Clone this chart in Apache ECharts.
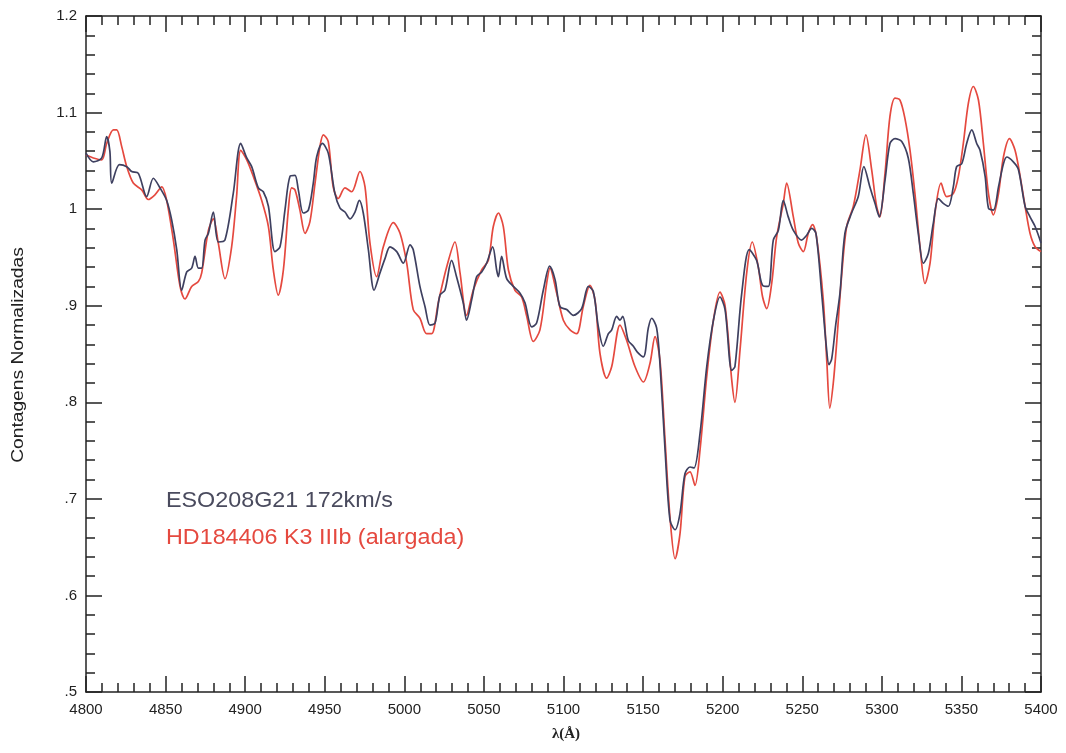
<!DOCTYPE html>
<html>
<head>
<meta charset="utf-8">
<style>
  html, body { margin: 0; padding: 0; background: #ffffff; }
  #chart { width: 1066px; height: 753px; }
</style>
<script src="https://cdn.jsdelivr.net/npm/echarts@6/dist/echarts.min.js"></script>
</head>
<body>
<div id="chart"></div>
<script>
// ESO208G21, broadened to 172 km/s
const esoWavelength = [
  4800, 4804.6, 4809.9, 4813, 4815, 4816.2, 4821, 4825.6, 4828.7, 4832.9,
  4838.1, 4842.3, 4846.5, 4850.7, 4853.8, 4857, 4860.1, 4863.3, 4866.4, 4868.5,
  4870.6, 4872.7, 4874.8, 4876.9, 4880, 4883.1, 4887.3, 4892.5, 4897.2, 4901,
  4904.1, 4908.3, 4911.4, 4914.6, 4918.7, 4921.9, 4925, 4928.2, 4931.3, 4933.4,
  4936.5, 4939.7, 4942.8, 4944.9, 4948.5, 4952.2, 4956.4, 4959.6, 4962.7, 4965.9,
  4969, 4971.7, 4974.2, 4977.4, 4981, 4984.7, 4987.9, 4991, 4995.2, 4999.4,
  5003.6, 5005.6, 5009.8, 5013, 5016.1, 5019.3, 5022.4, 5025.5, 5029.7, 5032.8,
  5037, 5039.1, 5042.3, 5045.4, 5048.6, 5051.7, 5055.5, 5058, 5059.1, 5061.1,
  5064.3, 5068.5, 5072.7, 5075.8, 5080, 5083.1, 5087.3, 5091.3, 5094.7, 5097.8,
  5102, 5106.2, 5111.4, 5115.6, 5118.7, 5121.9, 5125, 5128.2, 5130.3, 5133.4,
  5135.5, 5137.2, 5140.7, 5143.9, 5146.4, 5150.2, 5153.3, 5155.4, 5158.5, 5160.6,
  5163.8, 5166.9, 5170.1, 5173.2, 5176.3, 5179.5, 5182, 5185.8, 5190, 5194.2,
  5198.3, 5201.5, 5205.7, 5207.7, 5212, 5216.7, 5221.3, 5225.1, 5228.7, 5231.8,
  5235, 5238.1, 5241.2, 5244.4, 5249.6, 5252.8, 5255.9, 5258.6, 5262.2, 5265,
  5266.8, 5268.5, 5271, 5273.7, 5276.8, 5281, 5285.2, 5288.7, 5292.5, 5295.7,
  5298.4, 5302, 5305.1, 5308.3, 5312.5, 5316.6, 5319.8, 5322.9, 5326.1, 5329.2,
  5332.3, 5335.5, 5338.6, 5341.8, 5344.9, 5347, 5350.2, 5353.3, 5356.5, 5359.6,
  5361.7, 5364.9, 5367, 5370.1, 5373.3, 5376.4, 5378.5, 5382.6, 5385.8, 5390,
  5393.1, 5396.3, 5400
];
const esoCounts = [
  1.058, 1.049, 1.053, 1.075, 1.060, 1.027, 1.046, 1.044, 1.039, 1.037,
  1.013, 1.032, 1.022, 1.009, 0.989, 0.958, 0.916, 0.935, 0.939, 0.951,
  0.939, 0.939, 0.968, 0.975, 0.997, 0.966, 0.968, 1.016, 1.068, 1.053,
  1.044, 1.022, 1.018, 1.003, 0.956, 0.961, 0.999, 1.034, 1.035, 1.020,
  0.996, 0.999, 1.027, 1.054, 1.068, 1.058, 1.016, 1.001, 0.997, 0.990,
  0.997, 1.009, 0.996, 0.958, 0.916, 0.934, 0.949, 0.961, 0.956, 0.944,
  0.963, 0.958, 0.920, 0.899, 0.880, 0.882, 0.911, 0.916, 0.947, 0.930,
  0.903, 0.885, 0.906, 0.930, 0.935, 0.944, 0.961, 0.937, 0.930, 0.951,
  0.928, 0.920, 0.913, 0.903, 0.878, 0.882, 0.916, 0.941, 0.927, 0.899,
  0.896, 0.890, 0.897, 0.920, 0.915, 0.878, 0.858, 0.871, 0.875, 0.889,
  0.885, 0.889, 0.864, 0.858, 0.852, 0.847, 0.877, 0.887, 0.877, 0.840,
  0.751, 0.678, 0.668, 0.685, 0.726, 0.733, 0.732, 0.768, 0.837, 0.885,
  0.909, 0.896, 0.833, 0.837, 0.913, 0.958, 0.947, 0.921, 0.920, 0.968,
  0.978, 1.009, 0.992, 0.978, 0.968, 0.973, 0.980, 0.975, 0.913, 0.860,
  0.839, 0.845, 0.880, 0.913, 0.975, 0.996, 1.013, 1.044, 1.023, 1.006,
  0.992, 1.030, 1.068, 1.073, 1.070, 1.053, 1.016, 0.975, 0.944, 0.954,
  0.985, 1.011, 1.006, 1.003, 1.023, 1.044, 1.047, 1.068, 1.082, 1.068,
  1.061, 1.034, 1.001, 0.999, 1.023, 1.047, 1.054, 1.049, 1.041, 1.003,
  0.992, 0.982, 0.965
];

// HD184406, K3 IIIb, broadened template
const hdWavelength = [
  4800, 4804.6, 4809.9, 4813, 4817.2, 4819.3, 4822.4, 4825.6, 4829.7, 4835,
  4839.1, 4843.4, 4847.6, 4850.7, 4854.9, 4859.1, 4862.2, 4866.4, 4870.6, 4872.7,
  4876.9, 4880, 4883.1, 4887.3, 4891.5, 4894.6, 4897.2, 4901, 4905.1, 4910.4,
  4914.6, 4917.7, 4920.8, 4924, 4927.1, 4929.2, 4931.3, 4934.4, 4937.6, 4940.7,
  4943.9, 4947, 4949.1, 4952.2, 4955.3, 4958.5, 4962.7, 4966.9, 4972.1, 4975.3,
  4978.4, 4982.6, 4986.8, 4993.1, 4997.3, 5001.5, 5005.6, 5009.8, 5014, 5017.2,
  5021.3, 5026.6, 5031.8, 5035, 5039.1, 5043.3, 5048.6, 5052.8, 5055.9, 5059.1,
  5062.2, 5065.4, 5069.5, 5073.7, 5076.9, 5081, 5085.2, 5089.4, 5091.5, 5095.7,
  5099.9, 5104.1, 5108.3, 5112.4, 5116.6, 5119.8, 5122.9, 5127.1, 5130.3, 5135.5,
  5139.7, 5144.9, 5150.2, 5154.3, 5157.5, 5160.6, 5163.8, 5166.9, 5170.1, 5173.2,
  5176.3, 5179.5, 5182.6, 5185.8, 5190, 5194.2, 5198.3, 5201.5, 5205.7, 5207.7,
  5210.9, 5215.1, 5218.6, 5222.4, 5225.1, 5227.7, 5230.8, 5233.9, 5238.1, 5240.2,
  5244.4, 5247.5, 5250.7, 5253.8, 5256.5, 5259, 5263.2, 5265.5, 5267.3, 5269.5,
  5271.6, 5274.7, 5277.9, 5282.1, 5286.3, 5290, 5293.6, 5296.7, 5298.8, 5302,
  5305.1, 5308.3, 5311.4, 5314.5, 5317.7, 5320.8, 5324, 5327.1, 5330.3, 5333.4,
  5337.2, 5340.7, 5344.9, 5348.1, 5351.2, 5354.4, 5357.5, 5360.7, 5363.8, 5367,
  5370.1, 5373.3, 5376.4, 5380.2, 5383.7, 5386.9, 5390, 5393.1, 5396.3, 5400
];
const hdCounts = [
  1.056, 1.053, 1.051, 1.068, 1.082, 1.082, 1.065, 1.044, 1.027, 1.020,
  1.010, 1.015, 1.023, 1.009, 0.968, 0.920, 0.907, 0.920, 0.925, 0.934,
  0.978, 0.990, 0.965, 0.928, 0.961, 1.013, 1.061, 1.051, 1.034, 1.009,
  0.982, 0.937, 0.911, 0.937, 0.999, 1.022, 1.020, 0.999, 0.975, 0.987,
  1.027, 1.065, 1.077, 1.070, 1.023, 1.011, 1.022, 1.018, 1.039, 1.023,
  0.965, 0.930, 0.961, 0.986, 0.975, 0.944, 0.896, 0.887, 0.871, 0.871,
  0.903, 0.940, 0.966, 0.934, 0.890, 0.916, 0.937, 0.947, 0.982, 0.996,
  0.982, 0.937, 0.916, 0.909, 0.889, 0.863, 0.875, 0.923, 0.939, 0.913,
  0.885, 0.875, 0.871, 0.899, 0.921, 0.906, 0.851, 0.825, 0.837, 0.880,
  0.864, 0.837, 0.821, 0.840, 0.868, 0.844, 0.761, 0.681, 0.638, 0.664,
  0.723, 0.728, 0.714, 0.751, 0.827, 0.885, 0.914, 0.900, 0.823, 0.800,
  0.854, 0.934, 0.966, 0.940, 0.909, 0.897, 0.923, 0.971, 1.006, 1.027,
  0.992, 0.965, 0.956, 0.975, 0.984, 0.971, 0.906, 0.840, 0.794, 0.820,
  0.861, 0.930, 0.982, 1.003, 1.041, 1.077, 1.041, 1.003, 0.992, 1.037,
  1.096, 1.115, 1.113, 1.094, 1.061, 1.016, 0.961, 0.923, 0.944, 0.996,
  1.027, 1.013, 1.016, 1.034, 1.068, 1.110, 1.127, 1.113, 1.068, 1.016,
  0.994, 1.016, 1.054, 1.073, 1.061, 1.034, 1.003, 0.975, 0.961, 0.956
];

const esoLabel = 'ESO208G21 172km/s';
const hdLabel = 'HD184406 K3 IIIb (alargada)';
const yTitle = 'Contagens Normalizadas';
const xTitle = 'λ(Å)';

const zip = (xs, ys) => xs.map((x, i) => [x, ys[i]]);

const inkColor = '#222222';
const esoColor = '#3e4060';
const hdColor = '#e5493f';
const tickFont = { fontFamily: 'Liberation Sans, Arial, sans-serif', fontSize: 15, color: inkColor };

function xAxisDef(position, showLabels) {
  return {
    type: 'value', position: position,
    min: 4800, max: 5400, interval: 50,
    axisLine: { show: true, onZero: false, lineStyle: { color: inkColor, width: 1.5 } },
    axisTick: { show: true, inside: true, length: 16, lineStyle: { color: inkColor, width: 1.5 } },
    minorTick: { show: true, splitNumber: 5, length: 9, lineStyle: { color: inkColor, width: 1.5 } },
    splitLine: { show: false },
    axisLabel: Object.assign({ show: showLabels, margin: 10, formatter: v => String(Math.round(v)) }, tickFont)
  };
}

function yAxisDef(position, showLabels) {
  return {
    type: 'value', position: position,
    min: 0.5, max: 1.2, interval: 0.1,
    axisLine: { show: true, onZero: false, lineStyle: { color: inkColor, width: 1.5 } },
    axisTick: { show: true, inside: true, length: 16, lineStyle: { color: inkColor, width: 1.5 } },
    minorTick: { show: true, splitNumber: 5, length: 9, lineStyle: { color: inkColor, width: 1.5 } },
    splitLine: { show: false },
    axisLabel: Object.assign({
      show: showLabels, margin: 9,
      formatter: v => String(+(+v).toFixed(1)).replace(/^0\./, '.')
    }, tickFont)
  };
}

const chart = echarts.init(document.getElementById('chart'), null, { renderer: 'canvas' });

chart.setOption({
  backgroundColor: '#ffffff',
  animation: false,
  grid: { left: 86, right: 25, top: 16, bottom: 61, containLabel: false },
  xAxis: [xAxisDef('bottom', true), xAxisDef('top', false)],
  yAxis: [yAxisDef('left', true), yAxisDef('right', false)],
  series: [
    {
      name: hdLabel, type: 'line', xAxisIndex: 0, yAxisIndex: 0,
      data: zip(hdWavelength, hdCounts),
      showSymbol: false, smooth: 0.3,
      lineStyle: { color: hdColor, width: 1.7 }
    },
    {
      name: esoLabel, type: 'line', xAxisIndex: 0, yAxisIndex: 0,
      data: zip(esoWavelength, esoCounts),
      showSymbol: false, smooth: 0.3,
      lineStyle: { color: esoColor, width: 1.7 }
    }
  ],
  graphic: [
    {
      type: 'text', x: 166, y: 501, scaleX: 1.06,
      style: { text: esoLabel, fill: '#4a4b5e', font: '22px "Liberation Sans", Arial, sans-serif',
               textAlign: 'left', textVerticalAlign: 'middle' }
    },
    {
      type: 'text', x: 166, y: 538, scaleX: 1.06,
      style: { text: hdLabel, fill: hdColor, font: '22px "Liberation Sans", Arial, sans-serif',
               textAlign: 'left', textVerticalAlign: 'middle' }
    },
    {
      type: 'text', x: 19, y: 355, rotation: Math.PI / 2, scaleX: 1.2,
      style: { text: yTitle, fill: inkColor, font: '16px "Liberation Sans", Arial, sans-serif',
               textAlign: 'center', textVerticalAlign: 'middle' }
    },
    {
      type: 'text', x: 566, y: 734,
      style: { text: xTitle, fill: inkColor, font: 'bold 15px "Liberation Serif", "DejaVu Serif", serif',
               textAlign: 'center', textVerticalAlign: 'middle' }
    }
  ]
});
</script>
</body>
</html>
